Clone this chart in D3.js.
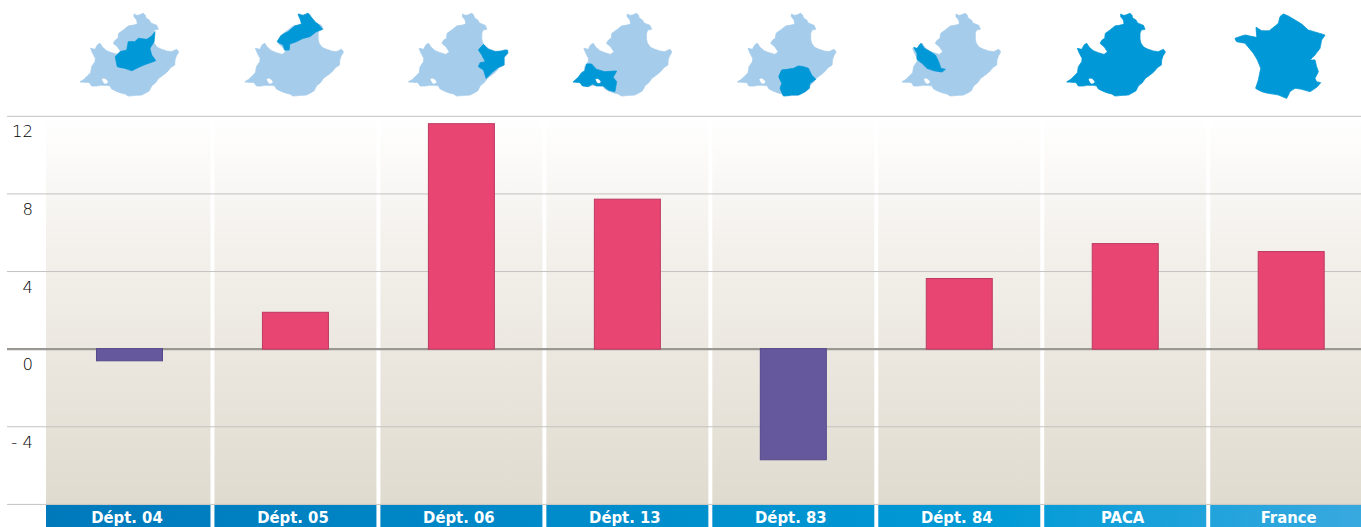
<!DOCTYPE html>
<html><head><meta charset="utf-8">
<script src="https://cdn.jsdelivr.net/npm/d3@7"></script>
<style>html,body{margin:0;padding:0;background:#fff;overflow:hidden}svg{display:block}</style>
</head><body><svg id="c" width="1361" height="527"></svg>
<script>
const categories = ["Dépt. 04","Dépt. 05","Dépt. 06","Dépt. 13","Dépt. 83","Dépt. 84","PACA","France"];
const values = [-0.6,1.9,11.62,7.73,-5.7,3.64,5.44,5.03];
const yTicks = [12,8,4,0,-4,-8];
const yLabels = ["12","8","4","0","- 4",""];

// Map outlines, traced at 3x with [origin x, points]
const pacaOutline = [200,[[362,42],[370,46],[378,45],[390,40],[396,46],[398,54],[408,60],[412,68],[420,72],[430,76],[435,88],[424,90],[420,100],[420,118],[423,130],[432,142],[445,148],[460,153],[475,155],[490,148],[496,156],[489,168],[485,180],[484,195],[472,203],[462,215],[450,225],[436,235],[428,247],[415,258],[408,272],[395,280],[385,285],[370,286],[345,288],[335,282],[320,278],[305,272],[294,266],[290,258],[278,256],[262,256],[250,258],[235,258],[228,248],[200,246],[212,238],[222,228],[232,218],[235,200],[245,185],[246,175],[238,160],[232,145],[245,148],[252,135],[260,130],[268,142],[280,152],[295,158],[312,163],[322,155],[312,140],[300,130],[306,120],[314,115],[316,100],[330,90],[345,78],[358,76],[372,72],[370,60],[362,50]]];
const berreHole = [200,[[266,238],[275,236],[284,246],[274,251]]];
const franceOutline = [0,[[850,42],[865,48],[885,60],[905,72],[925,90],[975,105],[965,120],[960,145],[945,165],[930,180],[945,180],[950,200],[955,215],[945,235],[950,245],[962,248],[950,262],[930,275],[905,268],[885,265],[870,275],[860,295],[835,285],[805,280],[785,275],[767,265],[775,240],[782,205],[772,180],[760,160],[735,130],[710,125],[705,115],[735,105],[770,112],[768,82],[785,92],[808,92],[835,70],[840,50]]];
const deptShapes = [
 [240,[[465,95],[462,125],[450,145],[455,165],[467,182],[440,192],[420,200],[395,212],[375,205],[352,200],[346,170],[360,155],[380,150],[385,125],[405,125],[415,115],[440,118],[455,108]]],
 [735,[[895,42],[910,46],[925,40],[935,52],[945,65],[955,72],[968,88],[950,95],[930,110],[910,115],[890,125],[870,132],[868,150],[855,150],[850,135],[832,125],[845,105],[865,95],[885,78],[905,72],[900,55]]],
 [25,[[250,133],[265,148],[285,155],[310,152],[322,150],[323,160],[312,172],[312,195],[295,202],[275,218],[258,235],[250,210],[235,200],[240,188],[255,185],[245,165],[235,150]]],
 [520,[[560,192],[575,192],[590,208],[615,215],[650,213],[640,232],[650,245],[645,275],[625,270],[610,258],[590,258],[578,252],[565,260],[548,258],[540,248],[520,246],[535,232],[545,218],[555,212]]],
 [112,[[245,210],[262,208],[280,205],[295,198],[310,200],[325,205],[335,225],[347,238],[330,250],[328,265],[315,275],[295,285],[275,285],[250,288],[240,265],[245,250],[236,230]]],
 [605,[[640,142],[650,145],[662,130],[672,145],[690,155],[705,165],[715,185],[722,205],[735,208],[725,216],[700,212],[680,205],[665,190],[650,178],[650,160]]]
];
const mapOrigins = [80,244.8,408.5,573.2,737.4,902,1066.7];
const BLUE="#0098d6", LIGHT="#a5cceb";

const svg=d3.select("#c");
const defs=svg.append("defs");
const bg=defs.append("linearGradient").attr("id","bg").attr("x1",0).attr("x2",0).attr("y1",0).attr("y2",1);
bg.append("stop").attr("offset",0).attr("stop-color","#ffffff");
bg.append("stop").attr("offset",.35).attr("stop-color","#f3f0eb");
bg.append("stop").attr("offset",1).attr("stop-color","#e0dbcf");
const hg=defs.append("linearGradient").attr("id","hd").attr("gradientUnits","userSpaceOnUse").attr("x1",46).attr("x2",1361).attr("y1",0).attr("y2",0);
hg.append("stop").attr("offset",0).attr("stop-color","#0079bb");
hg.append("stop").attr("offset",.72).attr("stop-color","#009ad6");
hg.append("stop").attr("offset",1).attr("stop-color","#38a9df");

const x=d3.scaleBand().domain(categories).range([46.5,46.5+8*165.96]);
const y=d3.scaleLinear().domain([-8,12]).range([504.4,116.3]);
const cx=d=>x(d)+x.bandwidth()/2;
const W=1361, barW=66, halfPanel=81;

const pL=(d,i)=>i===0?46:cx(d)-halfPanel;
const pW=(d,i)=>Math.min(cx(d)+halfPanel,W)-pL(d,i);

svg.append("g").selectAll("rect").data(categories).join("rect")
 .attr("x",pL).attr("width",pW).attr("y",y(12)).attr("height",y(-8)-y(12)).attr("fill","url(#bg)");

svg.append("g").selectAll("line").data(yTicks.filter(t=>t!==0)).join("line")
 .attr("x1",7).attr("x2",W).attr("y1",d=>y(d)).attr("y2",d=>y(d))
 .attr("stroke","#c4c3c0").attr("stroke-width",1);

svg.append("line").attr("x1",7).attr("x2",W).attr("y1",y(0)).attr("y2",y(0))
 .attr("stroke","#9a9893").attr("stroke-width",2.4);

svg.append("g").selectAll("rect").data(categories).join("rect")
 .attr("x",d=>cx(d)-barW/2).attr("width",barW)
 .attr("y",(d,i)=>values[i]<0?y(0)-0.5:y(values[i])).attr("height",(d,i)=>Math.abs(y(values[i])-y(0))+(values[i]<0?0.5:0))
 .attr("fill",(d,i)=>values[i]<0?"#66589d":"#e84573")
 .attr("stroke",(d,i)=>values[i]<0?"#54478c":"#bb3a62").attr("stroke-width",1);

svg.append("g").selectAll("text").data(yTicks).join("text")
 .attr("x",33).attr("y",d=>y(d)+21).attr("text-anchor","end")
 .attr("font-family","'DejaVu Sans', sans-serif").attr("font-weight",200).attr("font-size",16.5).attr("fill","#000")
 .text((d,i)=>yLabels[i]);

const hdr=svg.append("g");
hdr.selectAll("rect").data(categories).join("rect")
 .attr("x",pL).attr("width",pW).attr("y",505).attr("height",22).attr("fill","url(#hd)");
hdr.selectAll("text").data(categories).join("text")
 .attr("x",d=>cx(d)-2.5).attr("y",523).attr("text-anchor","middle")
 .attr("font-family","'DejaVu Sans', sans-serif").attr("font-stretch","condensed").attr("font-weight",700).attr("font-size",16.5).attr("fill","#fff")
 .text(d=>d);

const line=d3.line().curve(d3.curveCardinalClosed.tension(0.85));
const hole=d3.line().curve(d3.curveCardinalClosed.tension(0));
const toPts=(shape,ox)=>shape[1].map(p=>[ox+(p[0]-shape[0])/3,p[1]/3]);
const maps=svg.append("g").attr("stroke-width",0.8).attr("stroke-linejoin","round");
mapOrigins.forEach((ox,i)=>{
  const c=i===6?BLUE:LIGHT;
  maps.append("path").attr("fill-rule","evenodd")
    .attr("d",line(toPts(pacaOutline,ox))).attr("fill",c).attr("stroke",c);
  maps.append("path").attr("d",hole(toPts(berreHole,ox))).attr("fill","#fff");
  if(i<6) maps.append("path").attr("fill-rule","evenodd")
    .attr("d",line(toPts(deptShapes[i],ox))+(i===3?hole(toPts(berreHole,ox)):"")).attr("fill",BLUE).attr("stroke",BLUE);
});
maps.append("path").attr("d",line(toPts(franceOutline,1000))).attr("fill",BLUE).attr("stroke",BLUE);
</script></body></html>
